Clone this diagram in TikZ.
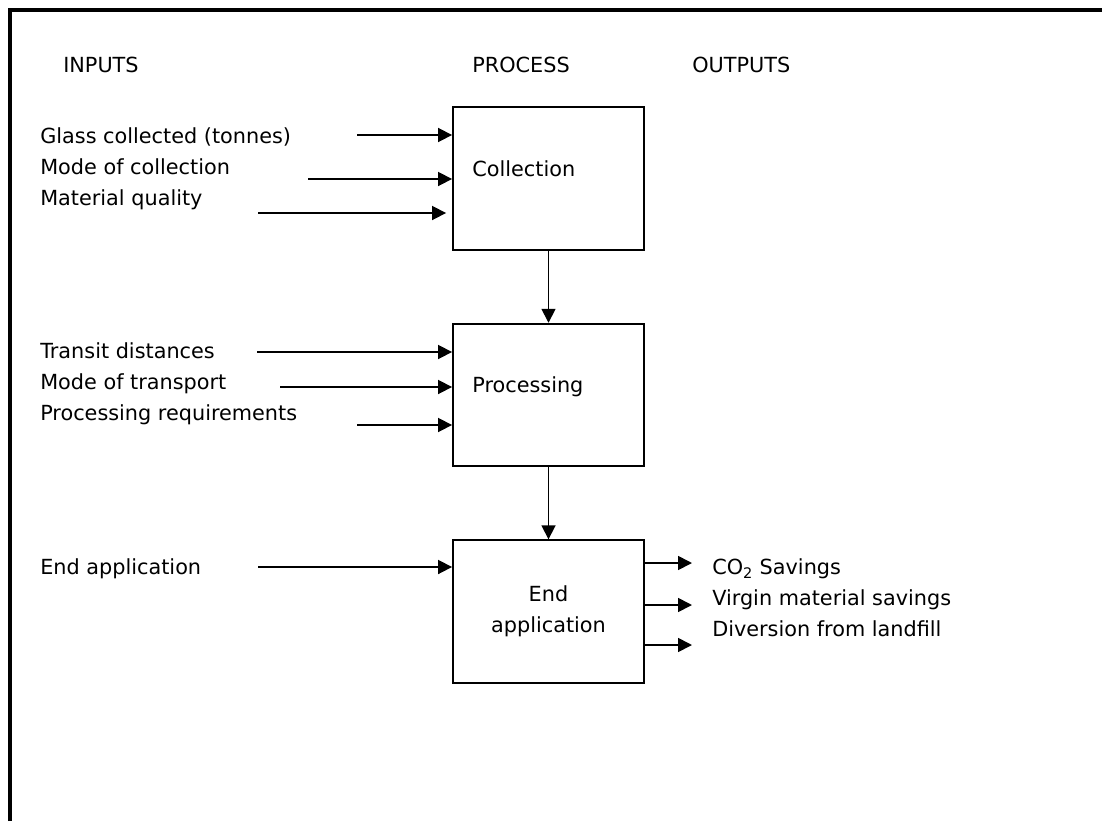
\documentclass[tikz,border=0pt]{standalone}
\usepackage{fontspec}
\setmainfont{DejaVu Sans}
\usetikzlibrary{arrows.meta,positioning,calc}

\begin{document}
\begin{tikzpicture}[
  x=0.75pt,y=-0.75pt,
  node distance=54pt,
  font=\fontsize{15.6}{23.25}\selectfont,
  pbox/.style={rectangle,draw,line width=1.4pt,minimum width=143.25pt,minimum height=107pt,inner sep=0pt,align=center},
  txt/.style={anchor=base west,inner sep=0pt},
  arrow/.style={-{Triangle[length=10.5pt,width=10.5pt]},line width=1.3pt}
]
  \useasboundingbox (0,0) rectangle (1102,821);

  % Frame
  \draw[line width=2.4pt] (10,821) -- (10,10) -- (1102,10);

  % Headings
  \node[txt] (hin) at (63,72) {INPUTS};
  \node[txt] (hproc) at (472,72) {PROCESS};
  \node[txt] (hout) at (692,72) {OUTPUTS};

  % Process boxes
  \node[pbox] (coll) at (548.5,178.5) {};
  \node[pbox,below=of coll] (proc) {};
  \node[pbox,below=of proc] (endapp) {End\\application};
  \node[txt] (colltxt) at ($(coll.north west)+(20,70)$) {Collection};
  \node[txt] (proctxt) at ($(proc.north west)+(20,70)$) {Processing};

  % Inputs
  \node[txt] (glass) at (40,143) {Glass collected (tonnes)};
  \node[txt] (mode) at (40,174) {Mode of collection};
  \node[txt] (qual) at (40,205) {Material quality};
  \node[txt] (trans) at (40,358) {Transit distances};
  \node[txt] (modet) at (40,389) {Mode of transport};
  \node[txt] (preq) at (40,420) {Processing requirements};
  \node[txt] (eapp) at (40,574) {End application};

  \coordinate (a1) at (357,135);
  \coordinate (a2) at (308,179);
  \coordinate (a3) at (258,213);
  \coordinate (b1) at (257,352);
  \coordinate (b2) at (280,387);
  \coordinate (b3) at (357,425);
  \coordinate (c1) at (258,567);

  % Outputs
  \coordinate (o1) at (692,563);
  \coordinate (o2) at (692,605);
  \coordinate (o3) at (692,645);
  \node[txt] (co2) at (712,574) {CO\textsubscript{2} Savings};
  \node[txt] (virgin) at (712,605) {Virgin material savings};
  \node[txt] (divert) at (712,636) {Diversion from landfill};

  % Arrows
  \draw[arrow] (a1) -- (coll.west |- a1);
  \draw[arrow] (a2) -- (coll.west |- a2);
  \draw[arrow,shorten >=4.5pt] (a3) -- (coll.west |- a3);
  \draw[arrow] (b1) -- (proc.west |- b1);
  \draw[arrow] (b2) -- (proc.west |- b2);
  \draw[arrow] (b3) -- (proc.west |- b3);
  \draw[arrow] (c1) -- (endapp.west |- c1);
  \draw[arrow] (coll) -- (proc);
  \draw[arrow] (proc) -- (endapp);
  \draw[arrow] (endapp.east |- o1) -- (o1);
  \draw[arrow] (endapp.east |- o2) -- (o2);
  \draw[arrow] (endapp.east |- o3) -- (o3);
\end{tikzpicture}
\end{document}
